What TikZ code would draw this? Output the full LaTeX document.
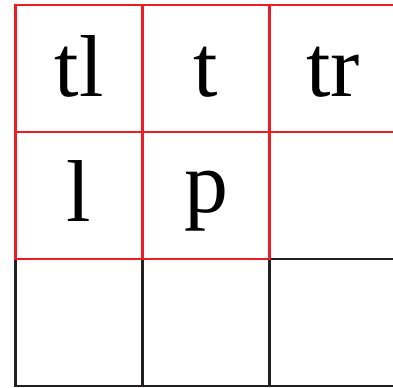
\documentclass[tikz,border=0pt]{standalone}
\usepackage{fontspec}
\setmainfont{Liberation Serif}
\usetikzlibrary{positioning}
\definecolor{hit}{RGB}{237,28,36}
\definecolor{ink}{RGB}{35,31,32}

\begin{document}
\begin{tikzpicture}[font=\fontsize{25}{30}\selectfont,
    cell/.style={draw=ink, line width=0.6pt, minimum size=1.27cm, inner sep=0pt, outer sep=0pt, text height=0.56cm, text depth=0pt},
    near/.style={cell, draw=hit}]
    \useasboundingbox (0,0) rectangle (3.93,-3.87);
    % plain cells first, neighbours of p go on top
    \node[cell] (r) at (3.335,-1.955) {};
    \node[cell] (bl) at (0.79,-3.225) {};
    \node[cell, right=0pt of bl] (b) {};
    \node[cell, right=0pt of b] (br) {};

    \node[near] (tl) at (0.79,-0.685) {tl};
    \node[near, right=0pt of tl] (t) {t};
    \node[near, right=0pt of t] (tr) {tr};
    \node[near, below=0pt of tl, text height=0.51cm] (l) {l};
    \node[near, right=0pt of l, text height=0.33cm] (p) {p};
\end{tikzpicture}
\end{document}
